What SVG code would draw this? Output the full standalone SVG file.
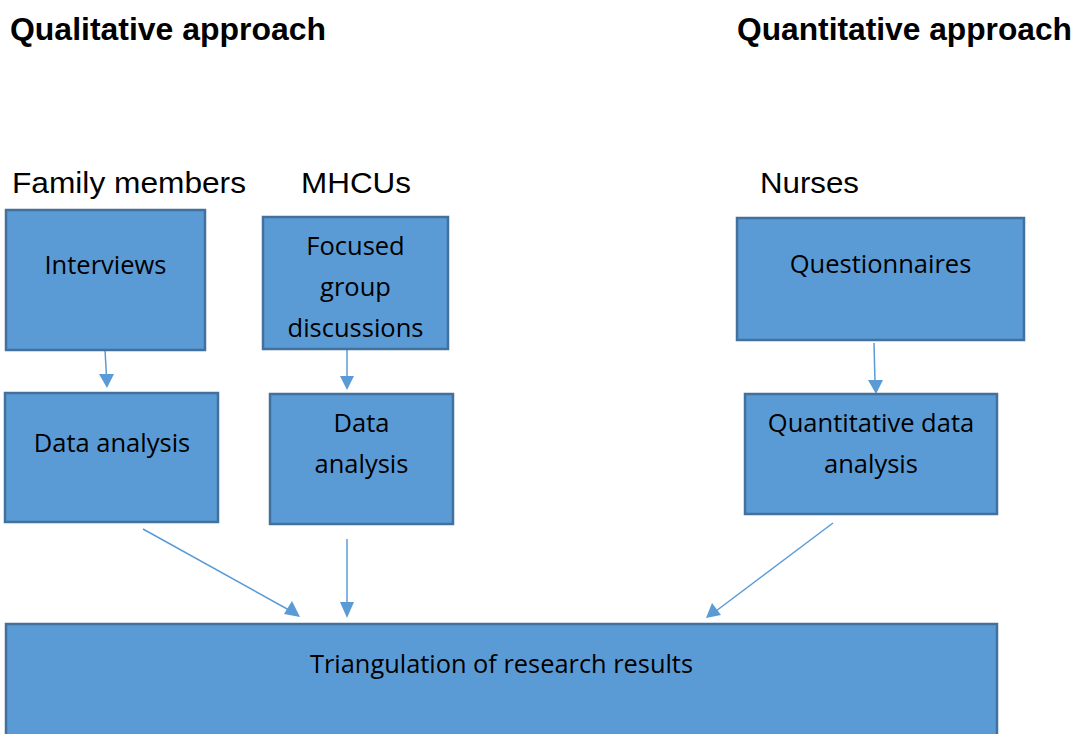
<svg xmlns="http://www.w3.org/2000/svg" width="1077" height="734" viewBox="0 0 1077 734">
<defs>
<style>
.box{fill:#5B9BD5;stroke:#41719C;stroke-width:2.5}
.t{font-family:"Open Sans","Liberation Sans",sans-serif;font-size:25.5px;fill:#000;text-anchor:middle}
.h{font-family:"Liberation Sans",Arial,sans-serif;font-weight:bold;font-size:31px;fill:#000}
.l{font-family:"Liberation Sans",Arial,sans-serif;font-size:29px;fill:#000}
.c{stroke:#5B9BD5;stroke-width:1.5;fill:none}
.a{fill:#5B9BD5}
</style>
</defs>
<rect width="1077" height="734" fill="#fff"/>
<g id="headers">
<text class="h" x="10" y="40" textLength="316" lengthAdjust="spacingAndGlyphs">Qualitative approach</text>
<text class="h" x="737" y="40" textLength="335" lengthAdjust="spacingAndGlyphs">Quantitative approach</text>
<text class="l" x="12" y="193" textLength="234" lengthAdjust="spacingAndGlyphs">Family members</text>
<text class="l" x="301" y="193" textLength="110" lengthAdjust="spacingAndGlyphs">MHCUs</text>
<text class="l" x="760" y="193" textLength="99" lengthAdjust="spacingAndGlyphs">Nurses</text>
</g>
<g id="connectors">
<line class="c" x1="105" y1="350" x2="106.5" y2="376"/>
<path class="a" d="M99,374 L114,374 L107,388 Z"/>
<line class="c" x1="347" y1="349" x2="347" y2="378"/>
<path class="a" d="M340,376 L354,376 L347,390 Z"/>
<line class="c" x1="874" y1="343" x2="875" y2="382"/>
<path class="a" d="M868,380 L883,380 L876,394 Z"/>
<line class="c" x1="143" y1="529" x2="289" y2="610"/>
<path class="a" d="M300,617 L284,614 L292,601 Z"/>
<line class="c" x1="347" y1="539" x2="347" y2="604"/>
<path class="a" d="M340,602 L354,602 L347,618 Z"/>
<line class="c" x1="833" y1="523" x2="716" y2="611"/>
<path class="a" d="M706,618 L712,603 L721,615 Z"/>
</g>
<g id="interviews">
<rect class="box" x="6" y="210" width="199" height="140"/>
<text class="t" x="105.5" y="274">Interviews</text>
</g>
<g id="focused">
<rect class="box" x="263" y="217" width="185" height="132"/>
<text class="t" x="355.5" y="255">Focused</text>
<text class="t" x="355.5" y="296">group</text>
<text class="t" x="355.5" y="337">discussions</text>
</g>
<g id="questionnaires">
<rect class="box" x="737" y="218" width="287" height="122"/>
<text class="t" x="880.5" y="273">Questionnaires</text>
</g>
<g id="da1">
<rect class="box" x="5" y="393" width="213" height="129"/>
<text class="t" x="112" y="452">Data analysis</text>
</g>
<g id="da2">
<rect class="box" x="270" y="394" width="183" height="130"/>
<text class="t" x="361.5" y="432">Data</text>
<text class="t" x="361.5" y="473">analysis</text>
</g>
<g id="qda">
<rect class="box" x="745" y="394" width="252" height="120"/>
<text class="t" x="871" y="432">Quantitative data</text>
<text class="t" x="871" y="473">analysis</text>
</g>
<g id="triangulation">
<rect class="box" x="6" y="624" width="991" height="120"/>
<text class="t" x="501.5" y="673" textLength="383" lengthAdjust="spacingAndGlyphs">Triangulation of research results</text>
</g>
</svg>
